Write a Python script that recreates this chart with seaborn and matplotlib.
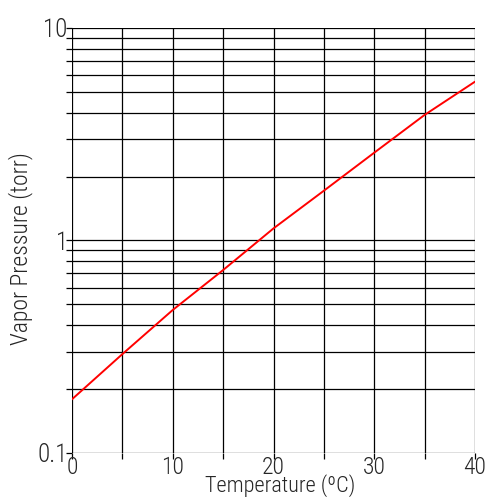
import pandas as pd
import matplotlib
matplotlib.use("Agg")
import matplotlib.pyplot as plt
import seaborn as sns
from matplotlib.ticker import FixedLocator, NullFormatter

# values
temperature = [0, 5, 10, 15, 20, 25, 30, 35, 40]
pressure = [0.179, 0.292, 0.471, 0.726, 1.14, 1.715, 2.59, 3.90, 5.59]

x_ticks = [0, 10, 20, 30, 40]
x_minor = [5, 15, 25, 35]
y_ticks = [0.1, 1, 10]
y_tick_labels = ["0.1", "1", "10"]

sns.set_theme(style="white")
plt.rcParams['font.family'] = ['Roboto Condensed', 'DejaVu Sans']
plt.rcParams['font.weight'] = 'light'
plt.rcParams['axes.labelweight'] = 'light'

df = pd.DataFrame({'temp': temperature, 'p': pressure})

fig = plt.figure(figsize=(4.9, 4.97), dpi=100)
ax = fig.add_axes([72 / 490, 1 - 453 / 497, (475 - 72) / 490, (453 - 28) / 497])

sns.lineplot(data=df, x='temp', y='p', color='red', linewidth=1.4, ax=ax)
ax.set_yscale('log')
ax.set_xlim(0, 40)
ax.set_ylim(0.1, 10)

ax.xaxis.set_major_locator(FixedLocator(x_ticks))
ax.xaxis.set_minor_locator(FixedLocator(x_minor))
ax.set_yticks(y_ticks)
ax.set_yticklabels(y_tick_labels)
ax.yaxis.set_minor_formatter(NullFormatter())

ax.grid(True, which='both', color='black', linewidth=0.9)
ax.tick_params(which='both', direction='out', length=4, width=0.9, color='black',
               labelsize=18, pad=-1, left=True, bottom=True)
ax.tick_params(axis='x', labelsize=17, pad=-2)
for lbl in ax.get_xticklabels() + ax.get_yticklabels():
    lbl.set_fontweight('light')
for s in ax.spines.values():
    s.set_visible(False)

ax.set_xlabel('Temperature (ºC)', fontsize=16, fontweight='light')
ax.xaxis.set_label_coords(0.517, -0.049)
ax.set_ylabel('Vapor Pressure (torr)', fontsize=17, fontweight='light')
ax.yaxis.set_label_coords(-0.097, 0.482)

fig.savefig('out.png', dpi=100)
